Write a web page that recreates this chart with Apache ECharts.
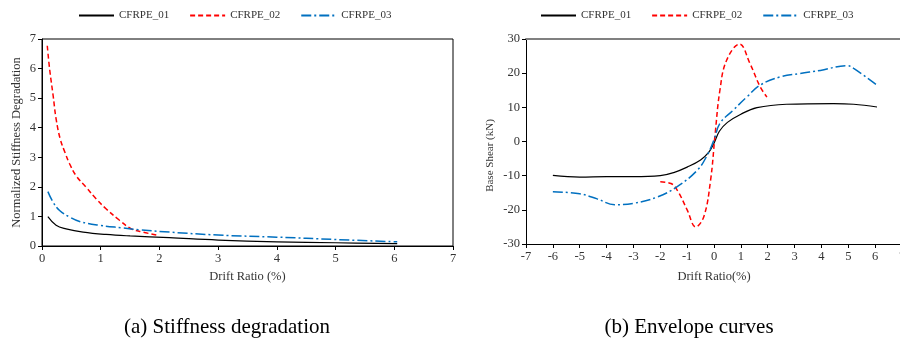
<!DOCTYPE html>
<html>
<head>
<meta charset="utf-8">
<script src="https://cdn.jsdelivr.net/npm/echarts@6/dist/echarts.min.js"></script>
<style>
  html, body { margin: 0; padding: 0; background: #fff; }
  #chart { width: 900px; height: 342px; }
</style>
</head>
<body>
<div id="chart"></div>
<script>
// series names
const seriesNames = ['CFRPE_01', 'CFRPE_02', 'CFRPE_03'];

// (a) stiffness degradation: [drift ratio %, normalized stiffness]
const stiff01 = [[0.1, 0.99], [0.24, 0.7], [0.41, 0.58], [0.7, 0.47], [1.09, 0.39], [1.5, 0.34], [2.17, 0.28], [3.0, 0.2], [4.0, 0.14], [5.0, 0.11], [6.05, 0.08]];
const stiff02 = [[0.09, 6.77], [0.13, 5.98], [0.19, 5.08], [0.24, 4.3], [0.31, 3.62], [0.39, 3.17], [0.47, 2.78], [0.58, 2.38], [0.75, 1.99], [0.92, 1.6], [1.09, 1.26], [1.32, 0.87], [1.52, 0.58], [1.72, 0.47], [1.97, 0.36]];
const stiff03 = [[0.1, 1.84], [0.19, 1.48], [0.3, 1.2], [0.47, 0.98], [0.64, 0.83], [0.98, 0.7], [1.38, 0.61], [1.66, 0.55], [2.17, 0.47], [3.0, 0.37], [4.0, 0.3], [5.0, 0.22], [6.05, 0.14]];

// (b) envelope curves: [drift ratio %, base shear kN]
const env01 = [[-6, -9.9], [-5, -10.4], [-4, -10.3], [-3, -10.3], [-2, -10.0], [-1.5, -9.1], [-1, -7.5], [-0.5, -5.4], [-0.2, -3.2], [0, -0.5], [0.2, 3], [0.5, 5.6], [1, 8], [1.6, 9.9], [2.7, 10.9], [4.45, 11.1], [5.2, 10.9], [6.07, 10.1]];
const env02 = [[-2, -11.8], [-1.6, -12.3], [-1.35, -14.5], [-1.0, -20], [-0.68, -25], [-0.38, -22], [-0.13, -11.5], [0.04, 2], [0.22, 15], [0.47, 23.8], [0.95, 28.5], [1.34, 22.8], [1.72, 16], [1.97, 13]];
const env03 = [[-6, -14.7], [-5, -15.3], [-4.35, -16.8], [-3.7, -18.5], [-3, -18.1], [-2.1, -16.2], [-1.37, -13.2], [-0.62, -8.4], [-0.25, -4], [0, 0.5], [0.22, 5.3], [0.72, 9.2], [1.22, 13], [1.72, 16.5], [2.46, 18.9], [3.2, 19.9], [3.96, 20.8], [4.95, 22.2], [5.2, 21.4], [6.07, 16.5]];

// axis ranges [min, max, interval]
const stiffX = [0, 7, 1];
const stiffY = [0, 7, 1];
const envX = [-7, 7, 1];
const envY = [-30, 30, 10];

const font = 'Liberation Serif';
const colors = ['#000000', '#ff0000', '#0070c0'];
const lineTypes = ['solid', [5, 3], [10, 3, 2, 3]];
const lineWidths = [1.2, 1.5, 1.5];

const chart = echarts.init(document.getElementById('chart'));

const axisLabel = { color: '#333', fontFamily: font, fontSize: 12.5 };
const nameStyle = { color: '#333', fontFamily: font, fontSize: 12.5 };

function makeSeries(data, i, grid) {
  return {
    name: seriesNames[i],
    type: 'line',
    xAxisIndex: grid,
    yAxisIndex: grid,
    data: data,
    smooth: 0.4,
    symbol: 'none',
    color: colors[i],
    lineStyle: { color: colors[i], width: lineWidths[i], type: lineTypes[i] },
  };
}

const legendBase = {
  data: seriesNames,
  top: 5,
  itemWidth: 35,
  itemHeight: 10,
  itemGap: 20,
  itemStyle: { opacity: 0 },
  textStyle: { fontFamily: font, fontSize: 11, color: '#333' },
};

const option = {
  animation: false,
  legend: [
    Object.assign({ left: 73 }, legendBase),
    Object.assign({ left: 535 }, legendBase),
  ],
  grid: [
    { left: 42, top: 39, width: 411, height: 207, show: true, borderColor: '#000', borderWidth: 1, outerBoundsMode: 'none' },
    { left: 526, top: 39, width: 376, height: 205, outerBoundsMode: 'none' },
  ],
  xAxis: [
    {
      gridIndex: 0, type: 'value', min: stiffX[0], max: stiffX[1], interval: stiffX[2],
      name: 'Drift Ratio (%)', nameLocation: 'middle', nameGap: 23, nameTextStyle: nameStyle,
      axisLine: { lineStyle: { color: '#000' } },
      axisTick: { show: true, length: 4, lineStyle: { color: '#000' } },
      axisLabel: Object.assign({ margin: 6 }, axisLabel),
      splitLine: { show: false },
    },
    {
      gridIndex: 1, type: 'value', min: envX[0], max: envX[1], interval: envX[2],
      name: 'Drift Ratio(%)', nameLocation: 'middle', nameGap: 26, nameTextStyle: nameStyle,
      axisLine: { onZero: false, lineStyle: { color: '#000' } },
      axisTick: { show: true, length: 4, lineStyle: { color: '#000' } },
      axisLabel: Object.assign({ margin: 6 }, axisLabel),
      splitLine: { show: false },
    },
    {
      // gray top border of plot (b)
      gridIndex: 1, type: 'value', position: 'top', min: envX[0], max: envX[1],
      axisLine: { show: true, onZero: false, lineStyle: { color: '#808080', width: 2 } },
      axisTick: { show: false }, axisLabel: { show: false }, splitLine: { show: false },
    },
  ],
  yAxis: [
    {
      gridIndex: 0, type: 'value', min: stiffY[0], max: stiffY[1], interval: stiffY[2],
      name: 'Normalized Stiffness Degradation', nameLocation: 'middle', nameGap: 19, nameTextStyle: nameStyle,
      axisLine: { show: true, lineStyle: { color: '#000' } },
      axisTick: { show: true, length: 4, lineStyle: { color: '#000' } },
      axisLabel: Object.assign({ margin: 6 }, axisLabel),
      splitLine: { show: false },
    },
    {
      gridIndex: 1, type: 'value', min: envY[0], max: envY[1], interval: envY[2],
      name: 'Base Shear (kN)', nameLocation: 'middle', nameGap: 30,
      nameTextStyle: Object.assign({}, nameStyle, { fontSize: 11, padding: [0, 28, 0, 0] }),
      axisLine: { show: true, onZero: false, lineStyle: { color: '#000' } },
      axisTick: { show: true, length: 4, lineStyle: { color: '#000' } },
      axisLabel: Object.assign({ margin: 6 }, axisLabel),
      splitLine: { show: false },
    },
  ],
  graphic: [
    {
      type: 'text', x: 227, y: 327,
      style: { text: '(a) Stiffness degradation', fontFamily: font, fontSize: 21, fill: '#000', align: 'center', verticalAlign: 'middle' },
    },
    {
      type: 'text', x: 689, y: 327,
      style: { text: '(b) Envelope curves', fontFamily: font, fontSize: 21, fill: '#000', align: 'center', verticalAlign: 'middle' },
    },
  ],
  series: [
    makeSeries(stiff01, 0, 0),
    makeSeries(stiff02, 1, 0),
    makeSeries(stiff03, 2, 0),
    makeSeries(env01, 0, 1),
    makeSeries(env02, 1, 1),
    makeSeries(env03, 2, 1),
  ],
};

chart.setOption(option);
</script>
</body>
</html>
